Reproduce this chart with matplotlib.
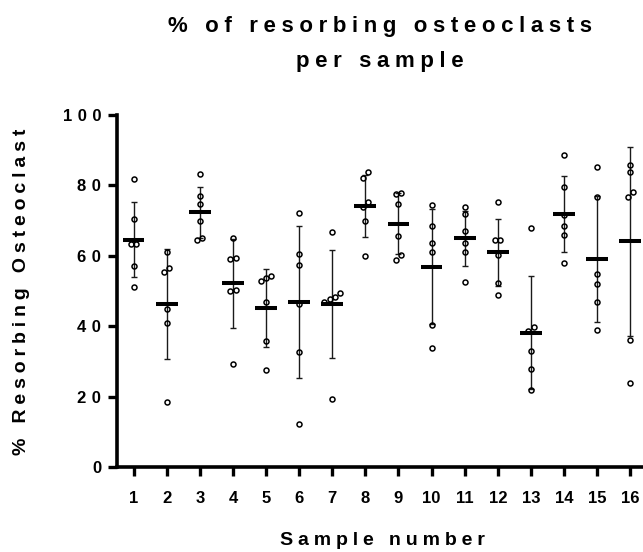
import numpy as np
import matplotlib
matplotlib.use("Agg")
import matplotlib.pyplot as plt

# Sample numbers and their tick labels
samples = list(range(1, 17))
sample_labels = [str(s) for s in samples]
y_ticks = [0, 20, 40, 60, 80, 100]
y_tick_labels = [str(t) for t in y_ticks]

# % resorbing osteoclasts measured per field, one list per sample
s01 = [81.7, 70.4, 63.4, 63.4, 57.2, 51.0]
s02 = [61.0, 56.6, 55.5, 44.9, 40.9, 18.5]
s03 = [83.2, 77.0, 74.7, 69.9, 65.1, 64.6]
s04 = [65.1, 59.4, 59.1, 50.4, 50.0, 29.3]
s05 = [54.2, 53.6, 52.8, 47.0, 35.7, 27.5]
s06 = [72.3, 60.4, 57.4, 46.3, 32.6, 12.3]
s07 = [66.9, 49.4, 48.4, 47.7, 46.9, 19.2]
s08 = [83.9, 82.2, 75.3, 73.9, 69.8, 59.9]
s09 = [77.8, 77.5, 74.6, 65.7, 60.1, 58.9]
s10 = [74.5, 68.6, 63.5, 61.1, 40.2, 33.8]
s11 = [73.9, 71.8, 67.1, 63.5, 61.0, 52.5]
s12 = [75.2, 64.6, 64.6, 60.1, 52.3, 48.9]
s13 = [68.0, 39.9, 38.6, 33.0, 27.9, 21.8]
s14 = [88.7, 79.5, 71.5, 68.4, 65.9, 57.9]
s15 = [85.2, 76.6, 54.8, 52.1, 46.9, 38.9]
s16 = [85.8, 83.8, 78.1, 76.8, 36.1, 24.0]
groups = [s01, s02, s03, s04, s05, s06, s07, s08,
          s09, s10, s11, s12, s13, s14, s15, s16]

title_line1 = "% of resorbing osteoclasts"
title_line2 = "per sample"
x_label = "Sample number"
y_label = "% Resorbing Osteoclast"

plt.rcParams['font.family'] = ['Liberation Sans', 'DejaVu Sans']
plt.rcParams['font.weight'] = 'bold'


def spaced(text, gap='\u2005'):
    """Wide letter spacing in the style of the plotting package."""
    return gap.join(text)


def spread(values, tol=1.8, step=0.16):
    """Horizontal offsets so that near-identical values sit side by side."""
    v = np.asarray(values, dtype=float)
    order = np.argsort(v)
    off = np.zeros(len(v))
    clusters = [[order[0]]]
    for i in order[1:]:
        if v[i] - v[clusters[-1][-1]] < tol:
            clusters[-1].append(i)
        else:
            clusters.append([i])
    for c in clusters:
        n = len(c)
        for k, idx in enumerate(c):
            off[idx] = (k - (n - 1) / 2) * step
    return off


fig = plt.figure(figsize=(6.43, 5.52), dpi=100)
ax = fig.add_axes([117 / 643, 85 / 552, 16 * 33.11 / 643, 352 / 552])

for x, vals in zip(samples, groups):
    v = np.asarray(vals, dtype=float)
    mean = v.mean()
    sd = v.std(ddof=1)
    ax.errorbar(x, mean, yerr=sd, fmt='none', ecolor='#1a1a1a',
                elinewidth=1.0, capsize=2.0, capthick=1.0, zorder=2)
    ax.plot(x + spread(v), v, 'o', ms=3.6, mfc='none', mec='black',
            mew=1.1, zorder=3, clip_on=False)
    ax.hlines(mean, x - 0.33, x + 0.33, colors='black', lw=2.9, zorder=4)

ax.set_xlim(0.5, 16.5)
ax.set_ylim(0, 100)
ax.set_xticks(samples)
ax.set_xticklabels(sample_labels)
ax.set_yticks(y_ticks)
ax.set_yticklabels([spaced(s, '\u2004') for s in y_tick_labels])

for side in ('top', 'right'):
    ax.spines[side].set_visible(False)
for side in ('left', 'bottom'):
    ax.spines[side].set_linewidth(2.6)
    ax.spines[side].set_color('black')

ax.tick_params(axis='both', direction='out', length=6.5, width=2.4,
               colors='black', labelsize=12)
ax.tick_params(axis='x', pad=11)
ax.tick_params(axis='y', pad=5)
for lab in ax.get_xticklabels() + ax.get_yticklabels():
    lab.set_fontweight('bold')

fig.text(380 / 643, 1 - 31.7 / 552, spaced(title_line1),
         ha='center', va='baseline', fontsize=16, fontweight='bold')
fig.text(380 / 643, 1 - 66.7 / 552, spaced(title_line2),
         ha='center', va='baseline', fontsize=16, fontweight='bold')
fig.text(382 / 643, 1 - 545 / 552, spaced(x_label),
         ha='center', va='baseline', fontsize=14, fontweight='bold')
fig.text(22 / 643, 1 - 292 / 552, spaced(y_label), rotation=90,
         ha='center', va='center', fontsize=14, fontweight='bold')

fig.savefig('out.png', dpi=100)
